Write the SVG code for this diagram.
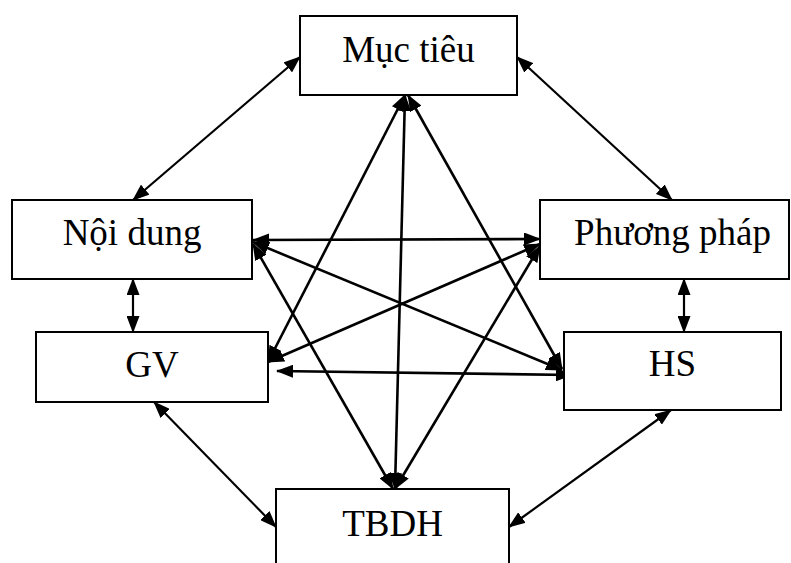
<svg xmlns="http://www.w3.org/2000/svg" width="791" height="563" viewBox="0 0 791 563">
<defs>
<marker id="ah" viewBox="0 0 17 13" markerUnits="userSpaceOnUse" markerWidth="17" markerHeight="13" refX="16" refY="6.5" orient="auto-start-reverse">
<path d="M0,0 L17,6.5 L0,13 z" fill="#000"/>
</marker>
</defs>
<style>
.box{fill:#fff;stroke:#000;stroke-width:2}
.lbl{font-family:"Liberation Serif","Times New Roman",serif;font-size:37px;fill:#000;text-anchor:middle}
.c line{stroke:#000;stroke-width:2.2;marker-start:url(#ah);marker-end:url(#ah)}
.c line.in{stroke-width:2.6}
</style>
<rect width="791" height="563" fill="#fff"/>
<g class="c" id="connectors">
<line x1="300" y1="57" x2="133" y2="200"/>
<line x1="517" y1="57" x2="672" y2="200"/>
<line x1="133" y1="279" x2="133" y2="332"/>
<line x1="684" y1="279" x2="684" y2="332"/>
<line x1="154" y1="402" x2="276" y2="527"/>
<line x1="671" y1="410" x2="509" y2="527"/>
<line class="in" x1="405" y1="95" x2="268" y2="362"/>
<line class="in" x1="405" y1="95" x2="395" y2="489"/>
<line class="in" x1="408" y1="95" x2="562" y2="369"/>
<line class="in" x1="253" y1="240" x2="540" y2="239"/>
<line class="in" x1="253" y1="242" x2="562" y2="370"/>
<line class="in" x1="253" y1="244" x2="393" y2="489"/>
<line class="in" x1="268" y1="362" x2="540" y2="244"/>
<line class="in" x1="277" y1="371" x2="572" y2="375"/>
<line class="in" x1="540" y1="246" x2="395" y2="489"/>
</g>
<g id="muc-tieu"><rect class="box" x="300" y="16" width="217" height="79"/><text class="lbl" x="408.5" y="62">Mục tiêu</text></g>
<g id="noi-dung"><rect class="box" x="12" y="200" width="240" height="79"/><text class="lbl" x="132" y="245">Nội dung</text></g>
<g id="phuong-phap"><rect class="box" x="540" y="200" width="249" height="79"/><text class="lbl" x="672.5" y="245">Phương pháp</text></g>
<g id="gv"><rect class="box" x="36" y="332" width="232" height="70"/><text class="lbl" x="152" y="377">GV</text></g>
<g id="hs"><rect class="box" x="564" y="332" width="217" height="78"/><text class="lbl" x="672.5" y="376">HS</text></g>
<g id="tbdh"><rect class="box" x="276" y="489" width="233" height="80"/><text class="lbl" x="392.5" y="536">TBDH</text></g>
</svg>
